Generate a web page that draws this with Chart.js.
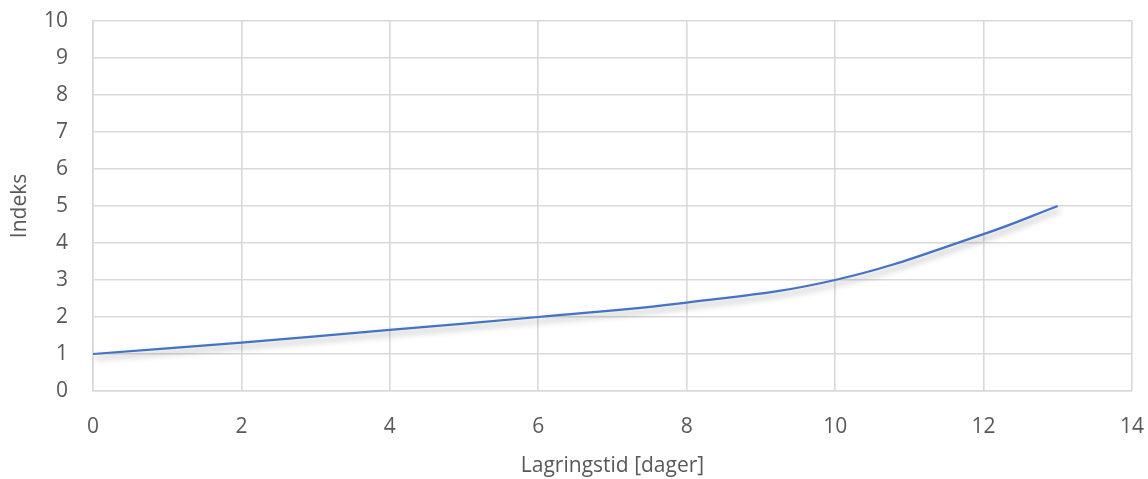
<!DOCTYPE html>
<html>
<head>
<meta charset="utf-8">
<script src="https://cdn.jsdelivr.net/npm/chart.js@4/dist/chart.umd.min.js"></script>
<style>
  html, body { margin: 0; padding: 0; background: #ffffff; }
  #wrap { width: 1148px; height: 479px; position: relative; }
</style>
</head>
<body>
<div id="wrap"><canvas id="c" width="1148" height="479"></canvas></div>
<script>
// Storage time in days and the measured index
const days = [0, 2, 4, 6, 8, 10, 12, 13];
const indexValues = [1.0, 1.31, 1.65, 2.0, 2.39, 3.0, 4.24, 5.0];

const xTicks = [0, 2, 4, 6, 8, 10, 12, 14];
const yTicks = [0, 1, 2, 3, 4, 5, 6, 7, 8, 9, 10];

const xTitle = 'Lagringstid [dager]';
const yTitle = 'Indeks';

const points = days.map((d, i) => ({ x: d, y: indexValues[i] }));

const textColor = '#595959';
const gridColor = '#d9d9d9';
const fontFamily = "'Open Sans', 'Liberation Sans', sans-serif";
const fontSize = 21;

// Soft drop shadow under the line
const lineShadow = {
  id: 'lineShadow',
  beforeDatasetDraw(chart) {
    const ctx = chart.ctx;
    ctx.save();
    ctx.shadowColor = 'rgba(0,0,0,0.35)';
    ctx.shadowBlur = 6;
    ctx.shadowOffsetX = 2;
    ctx.shadowOffsetY = 4;
  },
  afterDatasetDraw(chart) {
    chart.ctx.restore();
  }
};

new Chart(document.getElementById('c'), {
  type: 'scatter',
  data: {
    datasets: [{
      data: points,
      showLine: true,
      borderColor: '#4472C4',
      borderWidth: 2.2,
      pointRadius: 0,
      pointHoverRadius: 0,
      tension: 0.4,
      fill: false
    }]
  },
  plugins: [lineShadow],
  options: {
    responsive: false,
    animation: false,
    layout: { padding: { left: 0, right: 16, top: 21, bottom: 0 } },
    plugins: { legend: { display: false }, tooltip: { enabled: false } },
    scales: {
      x: {
        type: 'linear',
        min: 0,
        max: 14,
        afterBuildTicks(axis) { axis.ticks = xTicks.map(v => ({ value: v })); },
        afterFit(axis) {
          axis.height = 88;
          axis.paddingLeft = 0;
          axis.paddingRight = 0;
        },
        grid: { color: gridColor, lineWidth: 1.6, drawTicks: false },
        border: { color: gridColor, width: 1.6 },
        ticks: {
          color: textColor,
          padding: 23,
          maxRotation: 0,
          font: { family: fontFamily, size: fontSize }
        },
        title: {
          display: true,
          text: xTitle,
          color: textColor,
          padding: { top: 4, bottom: 0 },
          font: { family: fontFamily, size: fontSize }
        }
      },
      y: {
        type: 'linear',
        min: 0,
        max: 10,
        afterBuildTicks(axis) { axis.ticks = yTicks.map(v => ({ value: v })); },
        afterFit(axis) {
          axis.width = 93;
          axis.paddingTop = 0;
          axis.paddingBottom = 0;
        },
        grid: { color: gridColor, lineWidth: 1.6, drawTicks: false },
        border: { color: gridColor, width: 1.6 },
        ticks: {
          color: textColor,
          padding: 25,
          font: { family: fontFamily, size: fontSize }
        },
        title: {
          display: true,
          text: yTitle,
          color: textColor,
          padding: { top: 7, bottom: 4 },
          font: { family: fontFamily, size: fontSize }
        }
      }
    }
  }
});
</script>
</body>
</html>
